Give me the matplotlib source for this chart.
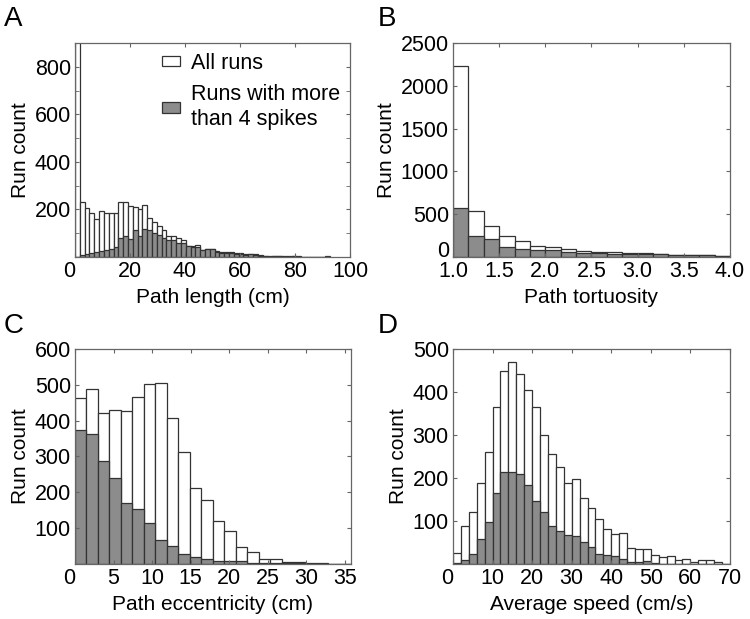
import numpy as np
import matplotlib
matplotlib.use('Agg')
from matplotlib import pyplot as plt
from matplotlib.patches import Patch

plt.rcParams['font.family'] = ['Liberation Sans', 'DejaVu Sans']
plt.rcParams['font.size'] = 15
plt.rcParams['xtick.labelsize'] = 15.5
plt.rcParams['ytick.labelsize'] = 15.5

# A - path length (cm), bins of 1.75 cm
len_width = 1.75
len_all = [1250, 232, 205, 183, 160, 195, 185, 185, 185, 232,
           230, 213, 210, 200, 218, 165, 148, 130, 115, 90,
           88, 78, 72, 48, 48, 52, 30, 33, 33, 25,
           22, 22, 20, 18, 16, 12, 14, 12, 8, 5,
           3, 5, 5, 3, 3, 5, 3, 1, 1, 2,
           0, 2, 3]
len_spk = [2, 7, 11, 15, 19, 24, 29, 35, 40, 80,
           90, 77, 114, 90, 118, 114, 100, 93, 80, 72,
           70, 59, 60, 45, 42, 42, 28, 35, 35, 21,
           18, 18, 15, 14, 12, 10, 11, 9, 6, 4,
           2, 4, 4, 2, 2, 4, 2, 1, 1, 1,
           0, 1, 2]

# B - path tortuosity, bins of 1/6
tort_start = 1.0
tort_width = 1.0 / 6
tort_all = [2235, 537, 366, 249, 183, 132, 117, 93, 74, 62,
            62, 51, 43, 39, 27, 23, 23, 12]
tort_spk = [576, 249, 214, 121, 97, 82, 78, 55, 51, 43,
            39, 39, 39, 39, 27, 23, 23, 12]

# C - path eccentricity (cm)
ecc_width = 1.49
ecc_all = [463, 488, 421, 430, 428, 465, 502, 506, 407, 312,
           212, 178, 120, 93, 47, 33, 15, 14, 6, 5,
           3, 2, 1, 0]
ecc_spk = [375, 363, 287, 240, 170, 153, 113, 66, 50, 29,
           19, 15, 9, 9, 7, 2, 2, 3, 2, 2,
           1, 1, 0, 0]

# D - average speed (cm/s), bins of 2
spd_width = 2.0
spd_all = [26, 88, 120, 188, 260, 364, 448, 470, 442, 405,
           364, 299, 255, 225, 188, 198, 153, 130, 105, 82,
           70, 72, 37, 35, 35, 21, 17, 18, 9, 12,
           5, 9, 9, 4, 0]
spd_spk = [2, 9, 23, 57, 98, 165, 214, 214, 210, 184,
           147, 121, 88, 77, 67, 64, 52, 40, 23, 21,
           18, 12, 5, 4, 7, 2, 1, 1, 1, 0,
           0, 0, 0, 0, 0]

gray = '#8c8c8c'
edge = '#333333'
spine_col = '#666666'


def draw_hist(ax, start, width, all_counts, spk_counts):
    left = start + width * np.arange(len(all_counts))
    ax.bar(left, all_counts, width=width, align='edge', color='white',
           edgecolor=edge, linewidth=0.9)
    ax.bar(left, spk_counts, width=width, align='edge', color=gray,
           edgecolor=edge, linewidth=0.9)
    ax.tick_params(direction='in', top=True, right=True, length=3,
                   color=spine_col, pad=3)
    ax.tick_params(which='minor', direction='in', top=True, right=True,
                   length=3, color=spine_col)
    for s in ax.spines.values():
        s.set_color(spine_col)
        s.set_linewidth(0.9)
    ax.set_ylabel('Run count', labelpad=3)


fig = plt.figure(figsize=(7.5, 6.19), dpi=100)

axA = fig.add_axes([0.1, 0.5848, 0.3667, 0.3457])
draw_hist(axA, 0, len_width, len_all, len_spk)
axA.set_xlim(0, 100)
axA.set_ylim(0, 900)
axA.set_xticks([0, 20, 40, 60, 80, 100])
axA.set_yticks([200, 400, 600, 800])
axA.set_yticks([100, 300, 500, 700], minor=True)
axA.set_xlabel('Path length (cm)')
axA.legend(handles=[Patch(facecolor='white', edgecolor=edge, linewidth=0.9),
                    Patch(facecolor=gray, edgecolor=edge, linewidth=0.9)],
           labels=['All runs', 'Runs with more\nthan 4 spikes'],
           loc='upper right', frameon=False, fontsize=15.5,
           handlelength=0.85, handleheight=0.4,
           handletextpad=0.5, labelspacing=0.5, borderaxespad=0.05)

axB = fig.add_axes([0.604, 0.5848, 0.3693, 0.3457])
draw_hist(axB, tort_start, tort_width, tort_all, tort_spk)
axB.set_xlim(1.0, 4.0)
axB.set_ylim(0, 2500)
axB.set_xticks([1.0, 1.5, 2.0, 2.5, 3.0, 3.5, 4.0])
axB.set_yticks([0, 500, 1000, 1500, 2000, 2500])
axB.set_xlabel('Path tortuosity')
# the y "0" sits on the bottom edge, above the x labels
axB.get_yticklabels()[0].set_verticalalignment('baseline')

axC = fig.add_axes([0.1, 0.0889, 0.368, 0.3473])
draw_hist(axC, 0, ecc_width, ecc_all, ecc_spk)
axC.set_xlim(0, 35.8)
axC.set_ylim(0, 600)
axC.set_xticks([0, 5, 10, 15, 20, 25, 30, 35])
axC.set_yticks([100, 200, 300, 400, 500, 600])
axC.set_xlabel('Path eccentricity (cm)')

axD = fig.add_axes([0.604, 0.0889, 0.3693, 0.3473])
draw_hist(axD, 0, spd_width, spd_all, spd_spk)
axD.set_xlim(0, 70)
axD.set_ylim(0, 500)
axD.set_xticks([0, 10, 20, 30, 40, 50, 60, 70])
axD.set_yticks([100, 200, 300, 400, 500])
axD.set_xlabel('Average speed (cm/s)')

# the "0" on the x axis sits left of the corner in the original
for ax in (axA, axC, axD):
    ax.get_xticklabels()[0].set_horizontalalignment('right')

for lab, x, y in [('A', 0.005, 0.99), ('B', 0.503, 0.99),
                  ('C', 0.005, 0.495), ('D', 0.503, 0.495)]:
    fig.text(x, y, lab, fontsize=20, va='top', ha='left')

fig.savefig('out.png', dpi=100)
